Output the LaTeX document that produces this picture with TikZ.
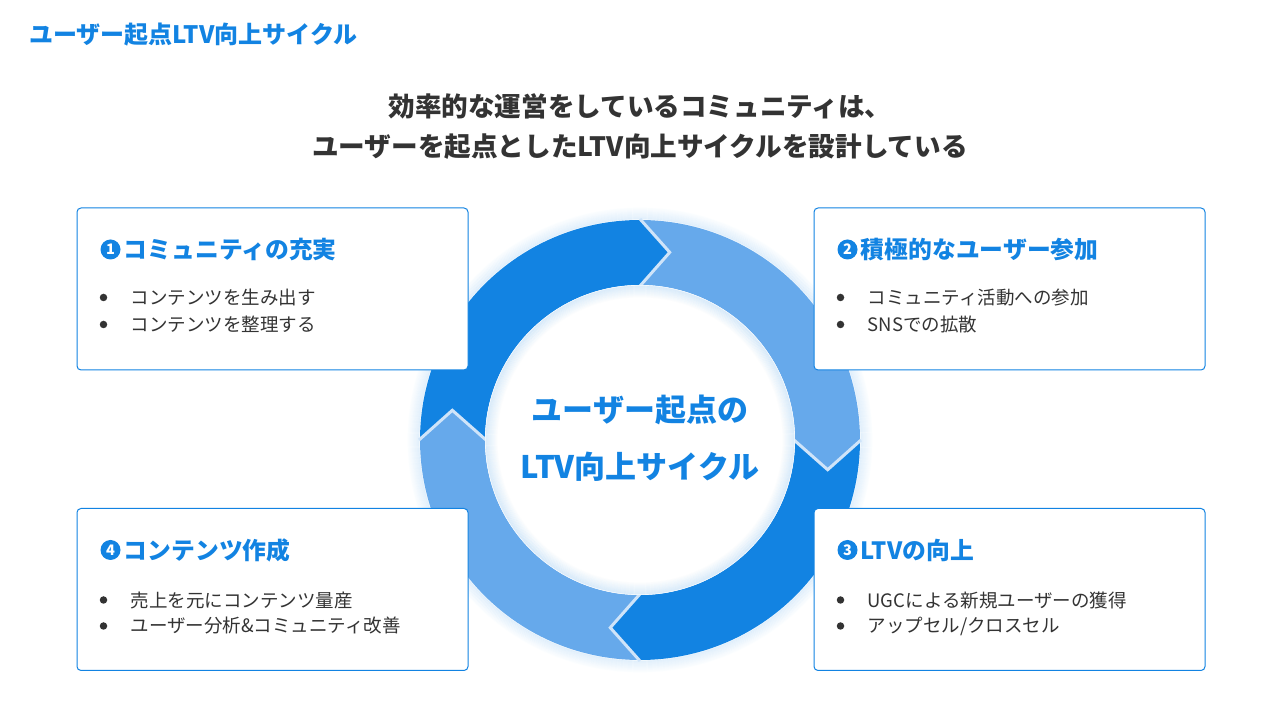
\documentclass[tikz,border=0pt]{standalone}
\usepackage{fontspec}
\setmainfont{Noto Sans CJK JP}
\usetikzlibrary{positioning}
\definecolor{cycleblue}{HTML}{1283E2}
\definecolor{cyclelight}{HTML}{66A9EB}
\definecolor{gapblue}{HTML}{CFE4F9}
\definecolor{bodygray}{HTML}{333333}

\begin{document}
\begin{tikzpicture}[
    x=1pt, y=1pt,
    card/.style={rectangle, draw=cycleblue, line width=1pt, rounded corners=4pt, fill=white, minimum width=391pt, minimum height=162pt},
    badge/.style={circle, fill=cycleblue, inner sep=0pt, minimum size=20pt, text=white, font=\bfseries\fontsize{14.5}{14.5}\selectfont},
    cardtitle/.style={inner sep=0pt, text=cycleblue, font=\bfseries\fontsize{23.8}{23.8}\selectfont},
    bulletdot/.style={circle, fill=bodygray, inner sep=0pt, minimum size=7.5pt},
    bullettext/.style={inner sep=0pt, text=bodygray, font=\fontsize{18.5}{18.5}\selectfont}
]
\useasboundingbox (0,0) rectangle (1280,720);

% Page title and heading
\node[anchor=west, inner sep=0pt, text=cycleblue, font=\bfseries\fontsize{24}{24}\selectfont] (pagetitle) at (29,685) {ユーザー起点LTV向上サイクル};
\node[align=center, text=bodygray, font=\bfseries\fontsize{26.6}{40}\selectfont] (heading) at (640,593) {効率的な運営をしているコミュニティは、\\ユーザーを起点としたLTV向上サイクルを設計している};

% Cycle ring
\begin{scope}[shift={(640,280)}]
  \foreach \r in {0,...,11}
    \draw[cycleblue, opacity={0.1-0.008*\r}, line width=1.2pt] (0,0) circle[radius=221+\r];
  \fill[cycleblue] (180:220) arc[start angle=180, end angle=90, radius=220] -- (81:190) -- (90:155) arc[start angle=90, end angle=180, radius=155] -- (171:190) -- cycle;
  \fill[cyclelight] (90:220) arc[start angle=90, end angle=0, radius=220] -- (-9:190) -- (0:155) arc[start angle=0, end angle=90, radius=155] -- (81:190) -- cycle;
  \fill[cycleblue] (0:220) arc[start angle=0, end angle=-90, radius=220] -- (-99:190) -- (-90:155) arc[start angle=-90, end angle=0, radius=155] -- (-9:190) -- cycle;
  \fill[cyclelight] (-90:220) arc[start angle=-90, end angle=-180, radius=220] -- (-189:190) -- (-180:155) arc[start angle=-180, end angle=-90, radius=155] -- (-99:190) -- cycle;
  \foreach \a in {90,0,-90,-180}
    \draw[gapblue, line width=3pt] (\a:221) -- ({\a-9}:190) -- (\a:154);
  \fill[white] (0,0) circle[radius=155];
  \foreach \r in {0,...,11}
    \draw[cycleblue, opacity={0.12-0.01*\r}, line width=1.2pt] (0,0) circle[radius=154-\r];
\end{scope}
\node[align=center, text=cycleblue, font=\bfseries\fontsize{31}{57}\selectfont] (hub) at (640,281.5) {ユーザー起点の\\LTV向上サイクル};

% Cards
\node[card] (c1) at (272.5,431) {};
\node[card] (c2) at (1009.5,431) {};
\node[card] (c3) at (1009.5,130.5) {};
\node[card] (c4) at (272.5,130.5) {};

% Card 1
\node[badge] (n1) at ([shift={(34,-42)}]c1.north west) {1};
\node[cardtitle, right=3pt of n1] (t1) {コミュニティの充実};
\node[bulletdot] (d11) at ([shift={(27,-90)}]c1.north west) {};
\node[bullettext, right=23pt of d11] (i11) {コンテンツを生み出す};
\node[bulletdot] (d12) at ([shift={(27,-117)}]c1.north west) {};
\node[bullettext, right=23pt of d12] (i12) {コンテンツを整理する};

% Card 2
\node[badge] (n2) at ([shift={(34,-42)}]c2.north west) {2};
\node[cardtitle, right=3pt of n2] (t2) {積極的なユーザー参加};
\node[bulletdot] (d21) at ([shift={(27,-90)}]c2.north west) {};
\node[bullettext, right=23pt of d21] (i21) {コミュニティ活動への参加};
\node[bulletdot] (d22) at ([shift={(27,-117)}]c2.north west) {};
\node[bullettext, right=23pt of d22] (i22) {SNSでの拡散};

% Card 3
\node[badge] (n3) at ([shift={(34,-42)}]c3.north west) {3};
\node[cardtitle, right=3pt of n3] (t3) {LTVの向上};
\node[bulletdot] (d31) at ([shift={(27,-92)}]c3.north west) {};
\node[bullettext, right=23pt of d31] (i31) {UGCによる新規ユーザーの獲得};
\node[bulletdot] (d32) at ([shift={(27,-118)}]c3.north west) {};
\node[bullettext, right=23pt of d32] (i32) {アップセル/クロスセル};

% Card 4
\node[badge] (n4) at ([shift={(34,-42)}]c4.north west) {4};
\node[cardtitle, right=3pt of n4] (t4) {コンテンツ作成};
\node[bulletdot] (d41) at ([shift={(27,-92)}]c4.north west) {};
\node[bullettext, right=23pt of d41] (i41) {売上を元にコンテンツ量産};
\node[bulletdot] (d42) at ([shift={(27,-118)}]c4.north west) {};
\node[bullettext, right=23pt of d42] (i42) {ユーザー分析\&コミュニティ改善};

\end{tikzpicture}
\end{document}
